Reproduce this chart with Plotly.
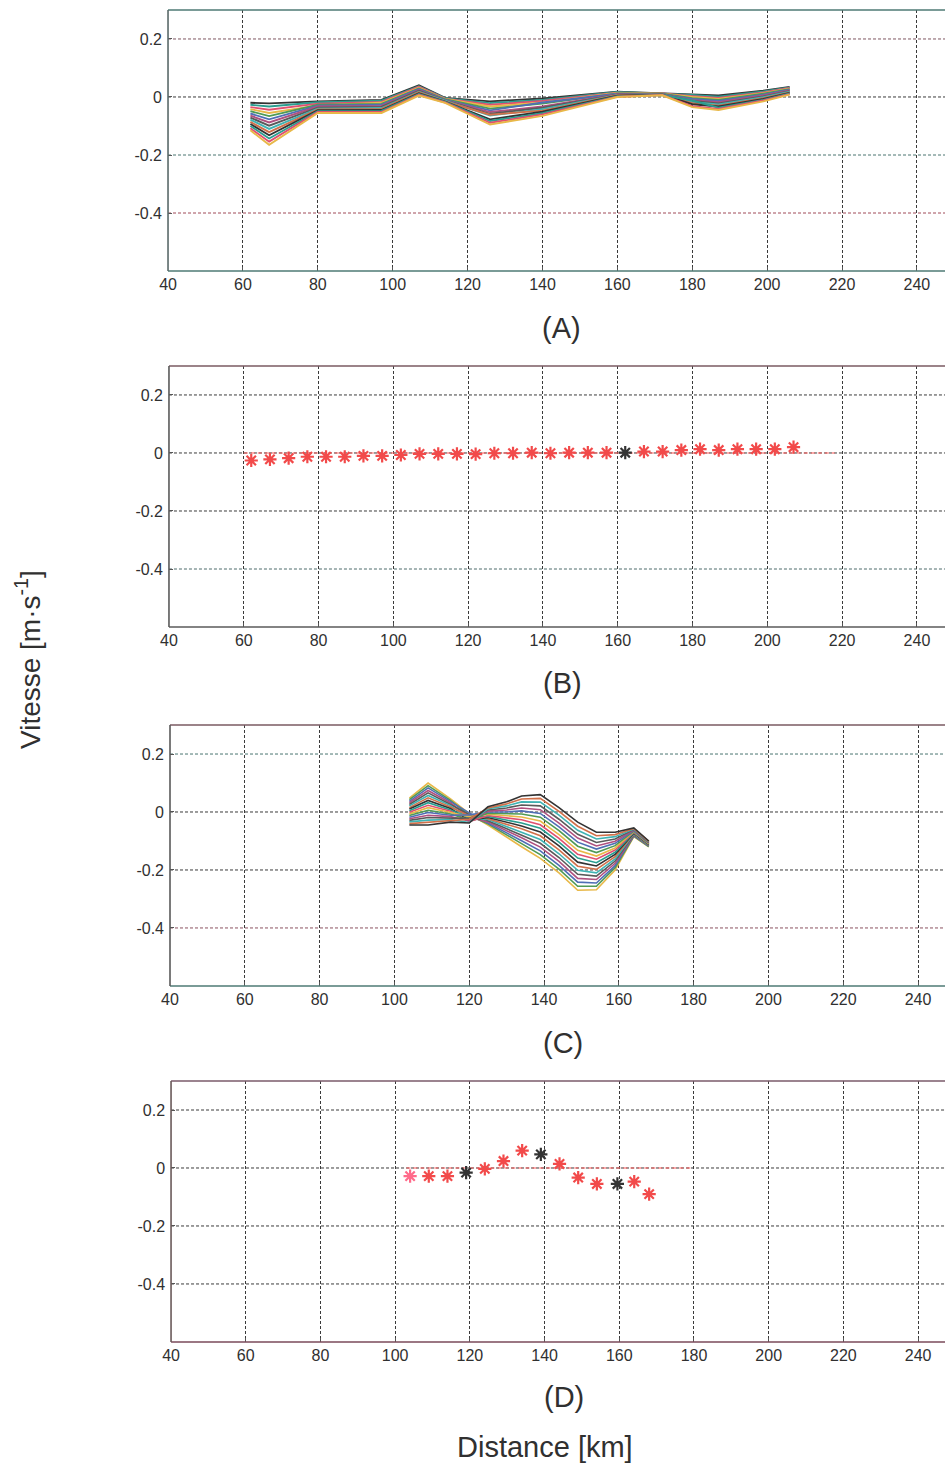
import plotly.graph_objects as go

# ---------------------------------------------------------------- data
# (A) family of velocity profiles along the section
A_X = [62, 67, 80, 97, 107, 114, 126, 140, 160, 172, 180, 187, 199, 206]
A_PROFILES = [
    [-0.020, -0.022, -0.015, -0.010, 0.040, -0.003, -0.015, -0.005, 0.018, 0.013, 0.010, 0.005, 0.022, 0.035],
    [-0.027, -0.033, -0.018, -0.013, 0.037, -0.004, -0.021, -0.010, 0.017, 0.012, 0.007, 0.001, 0.019, 0.033],
    [-0.035, -0.044, -0.023, -0.017, 0.035, -0.006, -0.027, -0.014, 0.015, 0.012, 0.003, -0.003, 0.016, 0.031],
    [-0.042, -0.055, -0.029, -0.020, 0.032, -0.007, -0.033, -0.019, 0.014, 0.011, 0.000, -0.007, 0.013, 0.029],
    [-0.049, -0.066, -0.027, -0.024, 0.029, -0.008, -0.040, -0.023, 0.012, 0.011, -0.004, -0.010, 0.011, 0.027],
    [-0.057, -0.077, -0.030, -0.027, 0.027, -0.010, -0.046, -0.019, 0.011, 0.010, -0.007, -0.014, 0.008, 0.025],
    [-0.064, -0.088, -0.033, -0.031, 0.024, -0.011, -0.052, -0.033, 0.010, 0.010, -0.011, -0.018, 0.005, 0.023],
    [-0.071, -0.099, -0.037, -0.034, 0.021, -0.012, -0.058, -0.037, 0.008, 0.009, -0.014, -0.022, 0.002, 0.020],
    [-0.078, -0.110, -0.040, -0.038, 0.018, -0.013, -0.064, -0.042, 0.007, 0.009, -0.018, -0.026, -0.001, 0.018],
    [-0.086, -0.121, -0.043, -0.041, 0.016, -0.015, -0.061, -0.047, 0.006, 0.008, -0.021, -0.030, -0.004, 0.016],
    [-0.093, -0.132, -0.046, -0.045, 0.013, -0.016, -0.077, -0.051, 0.004, 0.008, -0.025, -0.033, -0.007, 0.014],
    [-0.100, -0.143, -0.049, -0.048, 0.010, -0.017, -0.083, -0.056, 0.003, 0.007, -0.012, -0.037, -0.010, 0.012],
    [-0.108, -0.154, -0.052, -0.052, 0.008, -0.019, -0.089, -0.060, 0.001, 0.007, -0.032, -0.041, -0.012, 0.010],
    [-0.115, -0.165, -0.055, -0.055, 0.005, -0.020, -0.095, -0.065, 0.000, 0.006, -0.035, -0.045, -0.015, 0.008],
]

# (B) section-mean velocity, one value per station
B_X = [62, 67, 72, 77, 82, 87, 92, 97, 102, 107, 112, 117, 122, 127, 132,
       137, 142, 147, 152, 157, 162, 167, 172, 177, 182, 187, 192, 197, 202, 207]
B_V = [-0.026, -0.022, -0.018, -0.013, -0.013, -0.013, -0.010, -0.010, -0.007, -0.003,
       -0.003, -0.003, -0.004, -0.001, -0.001, 0.001, -0.001, 0.001, 0.001, 0.001,
       0.001, 0.005, 0.005, 0.010, 0.013, 0.010, 0.013, 0.013, 0.013, 0.020]
B_MARKED = [162]            # highlighted station
B_REF_X = [60, 218]         # zero reference segment
B_REF_V = [0, 0]

# (C) family of velocity profiles on the shorter section
C_X = [104, 109, 115, 120, 125, 130, 134, 139, 144, 149, 154, 159, 164, 168]
C_PROFILES = [
    [0.048, 0.100, 0.045, -0.006, -0.045, -0.085, -0.120, -0.160, -0.210, -0.270, -0.268, -0.200, -0.085, -0.120],
    [0.043, 0.091, 0.040, -0.012, -0.041, -0.078, -0.110, -0.147, -0.197, -0.256, -0.256, -0.192, -0.083, -0.119],
    [0.037, 0.083, 0.036, -0.003, -0.038, -0.071, -0.099, -0.134, -0.184, -0.242, -0.245, -0.185, -0.081, -0.118],
    [0.032, 0.074, 0.031, -0.018, -0.034, -0.064, -0.089, -0.121, -0.170, -0.229, -0.233, -0.177, -0.080, -0.116],
    [0.026, 0.066, 0.026, -0.009, -0.030, -0.057, -0.079, -0.108, -0.157, -0.215, -0.221, -0.169, -0.078, -0.115],
    [0.021, 0.057, 0.022, -0.024, -0.026, -0.050, -0.069, -0.095, -0.144, -0.201, -0.210, -0.162, -0.076, -0.114],
    [0.015, 0.049, 0.017, -0.014, -0.023, -0.043, -0.058, -0.082, -0.131, -0.187, -0.198, -0.154, -0.074, -0.113],
    [0.010, 0.040, 0.012, -0.029, -0.019, -0.036, -0.048, -0.069, -0.117, -0.173, -0.186, -0.146, -0.073, -0.112],
    [0.004, 0.032, 0.007, -0.020, -0.015, -0.029, -0.038, -0.056, -0.104, -0.159, -0.175, -0.139, -0.071, -0.111],
    [-0.001, 0.023, 0.003, -0.033, -0.012, -0.021, -0.027, -0.044, -0.091, -0.146, -0.163, -0.131, -0.069, -0.109],
    [-0.007, 0.015, -0.002, -0.016, -0.008, -0.014, -0.017, -0.031, -0.078, -0.132, -0.152, -0.124, -0.067, -0.108],
    [-0.012, 0.006, -0.007, -0.027, -0.004, -0.007, -0.007, -0.018, -0.064, -0.118, -0.140, -0.116, -0.066, -0.107],
    [-0.018, -0.002, -0.011, -0.010, 0.000, 0.000, 0.004, -0.005, -0.051, -0.104, -0.128, -0.108, -0.064, -0.106],
    [-0.023, -0.011, -0.016, -0.031, 0.003, 0.007, 0.014, 0.008, -0.038, -0.090, -0.117, -0.101, -0.062, -0.105],
    [-0.029, -0.019, -0.021, -0.022, 0.007, 0.014, 0.024, 0.021, -0.025, -0.077, -0.105, -0.093, -0.060, -0.104],
    [-0.034, -0.028, -0.026, -0.036, 0.011, 0.021, 0.035, 0.034, -0.011, -0.063, -0.093, -0.085, -0.059, -0.102],
    [-0.040, -0.036, -0.030, -0.025, 0.014, 0.028, 0.045, 0.047, 0.002, -0.049, -0.082, -0.078, -0.057, -0.101],
    [-0.045, -0.045, -0.035, -0.038, 0.018, 0.035, 0.055, 0.060, 0.015, -0.035, -0.070, -0.070, -0.055, -0.100],
]

# (D) section-mean velocity on the shorter section
D_X = [104, 109, 114, 119, 124, 129, 134, 139, 144, 149, 154, 159.5, 164, 168]
D_V = [-0.028, -0.028, -0.028, -0.016, -0.003, 0.024, 0.060, 0.047, 0.014,
       -0.033, -0.055, -0.055, -0.047, -0.090]
D_MARKED = [119, 139, 159.5]
D_REF_X = [103, 179]
D_REF_V = [0, 0]

X_TICKS = [40, 60, 80, 100, 120, 140, 160, 180, 200, 220, 240]
Y_TICKS = [-0.4, -0.2, 0, 0.2]
Y_TICK_TEXT = ["-0.4", "-0.2", "0", "0.2"]
PANEL_NAMES = ["(A)", "(B)", "(C)", "(D)"]

# ---------------------------------------------------------------- styling
FONT = "Liberation Sans, Arial, sans-serif"
INK = "#303030"
GRID = "#3a3a3a"
LINE_COLORS = ["#333333", "#2a9d8f", "#e05070", "#e8b848", "#4f9a55",
               "#4f6fb5", "#b0507f", "#5a5a5a", "#3fb3b3", "#d0704a"]
STAR_RED = "#f24a4a"

# panel geometry (paper fractions) and x ranges
Y_DOMAINS = [[0.8150, 0.9932], [0.5720, 0.7502], [0.3270, 0.5051], [0.0840, 0.2621]]
X_DOMAINS = [[0.1778, 1.0], [0.1788, 1.0], [0.1799, 1.0], [0.1810, 1.0]]
X_RANGES = [[40, 247.5], [40, 247.5], [40, 247.2], [40, 247.2]]
Y_RANGE = [-0.6, 0.3]

# horizontal grid tints per panel (0.2, 0, -0.2, -0.4)
H_GRID_COLORS = [
    ["#7d5560", "#3a3a3a", "#4a7470", "#a04a58"],
    ["#3a3a3a", "#3a3a3a", "#3a3a3a", "#4d6b6b"],
    ["#4a7470", "#3a3a3a", "#3a3a3a", "#8a5260"],
    ["#3a3a3a", "#3a3a3a", "#3a3a3a", "#3a3a3a"],
]
SPINE_COLORS = [
    ("#4e7a74", "#4e7a74", "#5a6a6a"),   # top, bottom, left
    ("#7a5a62", "#5a5a5a", "#5a5a5a"),
    ("#7a5a62", "#4e7a74", "#5a5a5a"),
    ("#7a5a6a", "#7a4a5a", "#6a5a5a"),
]

fig = go.Figure()


def axis_names(k):
    suffix = "" if k == 0 else str(k + 1)
    return "x" + suffix, "y" + suffix


# (A) profiles
xa, ya = axis_names(0)
for i, prof in enumerate(A_PROFILES):
    fig.add_trace(go.Scatter(x=A_X, y=prof, mode="lines", xaxis=xa, yaxis=ya,
                             line=dict(color=LINE_COLORS[i % len(LINE_COLORS)], width=1.9),
                             showlegend=False, hoverinfo="skip"))

# (B) station means
xb, yb = axis_names(1)
fig.add_trace(go.Scatter(x=B_REF_X, y=B_REF_V, mode="lines", xaxis=xb, yaxis=yb,
                         line=dict(color="#ff5a5a", width=1.2, dash="4px,3px"),
                         showlegend=False))
b_colors = ["#333333" if x in B_MARKED else STAR_RED for x in B_X]
fig.add_trace(go.Scatter(x=B_X, y=B_V, mode="markers", xaxis=xb, yaxis=yb,
                         marker=dict(symbol="asterisk-open", size=11, color=b_colors,
                                     line=dict(color=b_colors, width=2.2)),
                         showlegend=False))

# (C) profiles
xc, yc = axis_names(2)
for i, prof in enumerate(C_PROFILES):
    fig.add_trace(go.Scatter(x=C_X, y=prof, mode="lines", xaxis=xc, yaxis=yc,
                             line=dict(color=LINE_COLORS[(i + 3) % len(LINE_COLORS)], width=1.6),
                             showlegend=False, hoverinfo="skip"))

# (D) station means
xd, yd = axis_names(3)
fig.add_trace(go.Scatter(x=D_REF_X, y=D_REF_V, mode="lines", xaxis=xd, yaxis=yd,
                         line=dict(color="#ff5a5a", width=1.2, dash="4px,3px"),
                         showlegend=False))
d_colors = ["#333333" if x in D_MARKED else STAR_RED for x in D_X]
d_colors[0] = "#ff6a8a"
fig.add_trace(go.Scatter(x=D_X, y=D_V, mode="markers", xaxis=xd, yaxis=yd,
                         marker=dict(symbol="asterisk-open", size=11, color=d_colors,
                                     line=dict(color=d_colors, width=2.2)),
                         showlegend=False))

# ---------------------------------------------------------------- axes
layout = dict(
    width=945, height=1465,
    margin=dict(l=0, r=0, t=0, b=0, pad=0, autoexpand=False),
    paper_bgcolor="white", plot_bgcolor="white",
    font=dict(family=FONT, color=INK, size=16),
    showlegend=False,
)
shapes = []
annotations = []
for k in range(4):
    xs, ys = axis_names(k)
    xkey = "xaxis" + ("" if k == 0 else str(k + 1))
    ykey = "yaxis" + ("" if k == 0 else str(k + 1))
    layout[xkey] = dict(domain=X_DOMAINS[k], range=X_RANGES[k], anchor=ys,
                        tickvals=X_TICKS, ticks="inside", ticklen=4, tickcolor="#555",
                        showgrid=True, gridcolor=GRID, griddash="3px,2px", gridwidth=1,
                        zeroline=False, showline=False, automargin=False,
                        ticklabelstandoff=2,
                        tickfont=dict(size=16, color=INK, family=FONT))
    layout[ykey] = dict(domain=Y_DOMAINS[k], range=Y_RANGE, anchor=xs,
                        tickvals=Y_TICKS, ticktext=Y_TICK_TEXT,
                        ticks="inside", ticklen=4, tickcolor="#555",
                        showgrid=False, zeroline=False, showline=False, automargin=False,
                        ticklabelstandoff=5,
                        tickfont=dict(size=16, color=INK, family=FONT))
    # horizontal dashed grid lines, individually tinted
    for yv, col in zip([0.2, 0, -0.2, -0.4], H_GRID_COLORS[k]):
        shapes.append(dict(type="line", xref=xs, yref=ys, layer="below",
                           x0=X_RANGES[k][0], x1=X_RANGES[k][1], y0=yv, y1=yv,
                           line=dict(color=col, width=1, dash="3px,2px")))
    top_c, bot_c, left_c = SPINE_COLORS[k]
    dom_x, dom_y = xs + " domain", ys + " domain"
    shapes.append(dict(type="line", xref=dom_x, yref=dom_y, x0=0, x1=1, y0=1, y1=1,
                       line=dict(color=top_c, width=1.6)))
    shapes.append(dict(type="line", xref=dom_x, yref=dom_y, x0=0, x1=1, y0=0, y1=0,
                       line=dict(color=bot_c, width=1.6)))
    shapes.append(dict(type="line", xref=dom_x, yref=dom_y, x0=0, x1=0, y0=0, y1=1,
                       line=dict(color=left_c, width=1.6)))

# panel captions
for name, (px, py) in zip(PANEL_NAMES, [(561, 328), (562, 683), (563, 1043), (564, 1397)]):
    annotations.append(dict(text=name, xref="paper", yref="paper",
                            x=px / 945, y=1 - py / 1465, xanchor="center", yanchor="middle",
                            showarrow=False, font=dict(size=29, color=INK, family=FONT)))

annotations.append(dict(text="Distance [km]", xref="paper", yref="paper",
                        x=545 / 945, y=1 - 1447 / 1465, xanchor="center", yanchor="middle",
                        showarrow=False, font=dict(size=29, color=INK, family=FONT)))
annotations.append(dict(text="Vitesse [m·s<sup>-1</sup>]", xref="paper", yref="paper",
                        x=28 / 945, y=1 - 660 / 1465, xanchor="center", yanchor="middle",
                        textangle=-90, showarrow=False,
                        font=dict(size=28, color=INK, family=FONT)))

layout["shapes"] = shapes
layout["annotations"] = annotations
fig.update_layout(**layout)

fig.write_html("out.html")
